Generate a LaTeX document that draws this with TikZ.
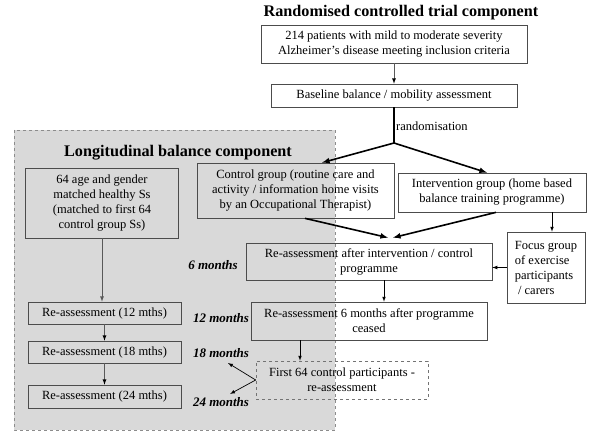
\documentclass[tikz,border=0pt]{standalone}
\usepackage{fontspec}
\setmainfont{Liberation Serif}
\usepackage{tikz}
\usetikzlibrary{arrows,calc,backgrounds}

\begin{document}
\begin{tikzpicture}[x=1pt,y=-1pt,
    font=\fontsize{12.5}{15}\selectfont,
    box/.style={draw=black!70,line width=0.7pt,align=center,inner sep=2pt},
    dbox/.style={box,draw=black!55,dashed},
    head/.style={font=\fontsize{16.2}{18}\selectfont\bfseries},
    when/.style={font=\fontsize{13}{15}\selectfont\bfseries\itshape},
    tarrow/.style={-latex,line width=0.7pt},
    larrow/.style={-latex,line width=0.8pt,draw=black!65},
    barrow/.style={-latex,line width=1.6pt}]
  \useasboundingbox (0,0) rectangle (600,441);
  \fill[black!15] (14,130) rectangle (335,430);
  \draw[black!45,dashed,line width=0.6pt] (14,130) rectangle (335,430);

  \draw (401,13) node[head] (rctitle) {Randomised controlled trial component};
  \draw (394,44) node[box,minimum width=266,minimum height=38] (patients)
      {214 patients with mild to moderate severity\\Alzheimer’s disease meeting inclusion criteria};
  \draw (394,95.5) node[box,minimum width=246,minimum height=23] (baseline)
      {Baseline balance / mobility assessment};
  \draw (396,126) node[anchor=west,inner sep=0pt] (randlabel) {randomisation};
  \coordinate (split) at (394,143);

  \draw (178,153) node[head] (longtitle) {Longitudinal balance component};
  \draw (102,203) node[box,minimum width=153,minimum height=70] (healthy)
      {64 age and gender\\matched healthy Ss\\(matched to first 64\\control group Ss)};
  \draw (295.5,190.5) node[box,minimum width=197,minimum height=55] (control)
      {Control group (routine care and\\activity / information home visits\\by an Occupational Therapist)};
  \draw (492,192.5) node[box,minimum width=188,minimum height=39] (intervention)
      {Intervention group (home based\\balance training programme)};
  \draw (369,261.5) node[box,minimum width=246,minimum height=37] (reassess)
      {Re-assessment after intervention / control\\programme};
  \draw (546,267.5) node[box,align=left,minimum width=78,minimum height=71] (focus)
      {Focus group\\of exercise\\participants\\\ / carers};
  \draw (369,321) node[box,minimum width=236,minimum height=38] (ceased)
      {Re-assessment 6 months after programme\\ceased};
  \draw (342,380) node[dbox,minimum width=172,minimum height=38] (first64)
      {First 64 control participants -\\re-assessment};

  \draw (104.5,313) node[box,minimum width=153,minimum height=22] (r12) {Re-assessment (12 mths)};
  \draw (104.5,352) node[box,minimum width=153,minimum height=22] (r18) {Re-assessment (18 mths)};
  \draw (104.5,396.5) node[box,minimum width=153,minimum height=23] (r24) {Re-assessment (24 mths)};

  \draw (213,265) node[when] (m6) {6 months};
  \draw (221,318) node[when] (m12) {12 months};
  \draw (221,353) node[when] (m18) {18 months};
  \draw (221,402) node[when] (m24) {24 months};

  % randomised trial
  \path[larrow] (patients) edge (baseline);
  \draw[line width=1.6pt] (baseline.south) -- (split);
  \path[barrow] (split) edge ([xshift=26.5pt]control.north);
  \path[barrow] (split) edge ([xshift=-5pt]intervention.north);
  \path[barrow] ([xshift=9.5pt]control.south) edge ([xshift=19pt,yshift=5pt]reassess.north);
  \path[barrow] ([xshift=4pt]intervention.south) edge ([xshift=24pt,yshift=5pt]reassess.north);
  \path[tarrow] ([xshift=60pt]intervention.south) edge ([xshift=6pt]focus.north);
  \path[tarrow] (focus.west) edge (focus.west -| reassess.east);
  \path[tarrow] ([xshift=15pt]reassess.south) edge ([xshift=15pt]reassess.south |- ceased.north);
  \path[tarrow] ([xshift=-69pt]ceased.south) edge ([xshift=-69pt]ceased.south |- first64.north);
  \path[tarrow] (first64.west) edge ($(m18)+(7,10)$);
  \path[tarrow] (first64.west) edge ($(m24)+(9,-8)$);

  % longitudinal
  \draw[larrow] (healthy.south) -- (healthy.south |- r12.north);
  \path[larrow] (r12) edge (r18);
  \path[larrow] (r18) edge (r24);
\end{tikzpicture}
\end{document}
